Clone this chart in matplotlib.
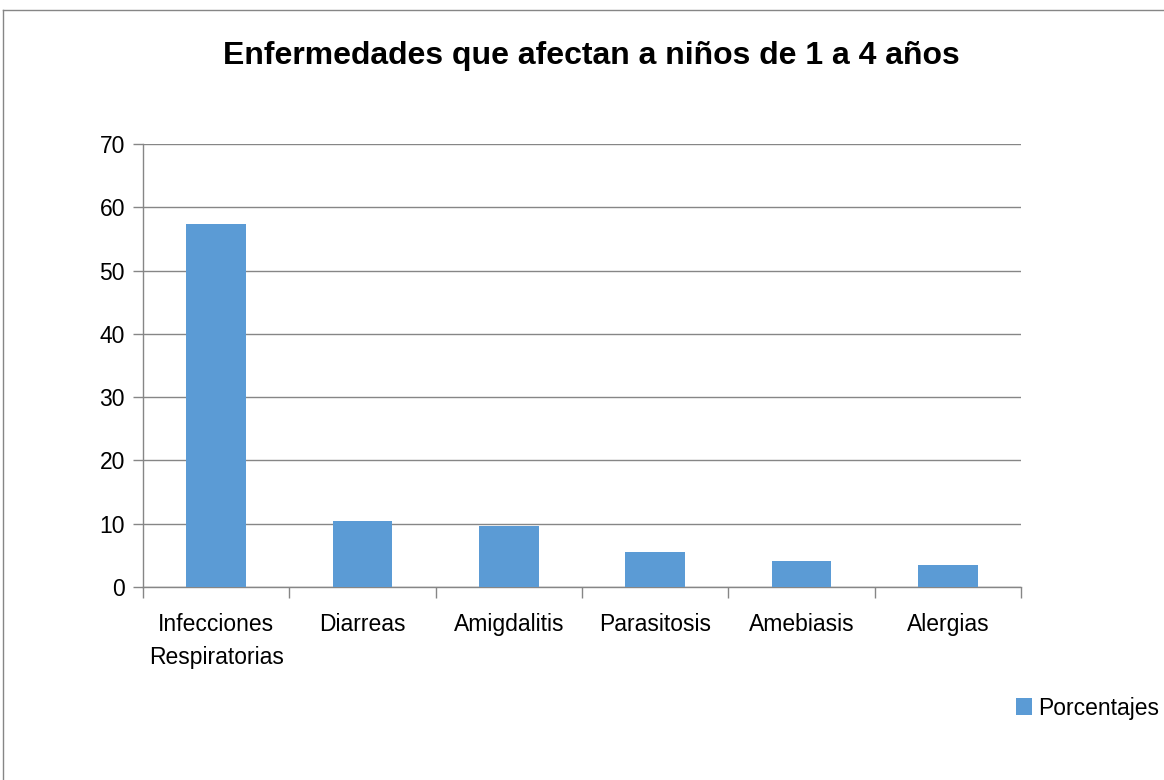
import matplotlib.pyplot as plt
from matplotlib.lines import Line2D
from matplotlib.patches import Patch

categorias = ['Infecciones\nRespiratorias', 'Diarreas', 'Amigdalitis',
              'Parasitosis', 'Amebiasis', 'Alergias']
porcentajes = [57.3, 10.4, 9.7, 5.6, 4.1, 3.5]
serie = 'Porcentajes'
titulo = 'Enfermedades que afectan a niños de 1 a 4 años'

azul = '#5b9bd5'
gris = '#868686'
plt.rcParams['font.family'] = ['Liberation Sans', 'DejaVu Sans']

fig = plt.figure(figsize=(11.64, 7.8), dpi=100)
ax = fig.add_axes([143 / 1164, 1 - 587 / 780, 878 / 1164, 443 / 780])

x = range(len(categorias))
ax.bar(x, porcentajes, width=0.41, color=azul, zorder=3)

ax.set_xlim(-0.5, len(categorias) - 0.5)
ax.set_ylim(0, 70)
ax.set_yticks(range(0, 71, 10))
ax.yaxis.grid(True, color=gris, linewidth=1)
ax.set_axisbelow(True)

ax.set_xticks(list(x))
ax.set_xticklabels(categorias, fontsize=16.5, linespacing=1.55)
ax.tick_params(axis='x', length=0, pad=19)
ax.set_xticks([i - 0.5 for i in range(len(categorias) + 1)], minor=True)
ax.tick_params(axis='x', which='minor', length=8, color=gris, width=1)
ax.tick_params(axis='y', length=7, color=gris, width=1, labelsize=16.5, pad=6)

for s in ['top', 'right']:
    ax.spines[s].set_visible(False)
for s in ['left', 'bottom']:
    ax.spines[s].set_color(gris)
    ax.spines[s].set_linewidth(1)

fig.text(591 / 1164, 1 - 56 / 780, titulo, ha='center', va='center',
         fontsize=23, fontweight='bold')

fig.legend(handles=[Patch(facecolor=azul, label=serie)], loc='center left',
           bbox_to_anchor=(995 / 1164, 1 - 708 / 780), frameon=False,
           fontsize=16.5, handlelength=0.7, handleheight=0.7, handletextpad=0.3)

# chart border
fig.add_artist(Line2D([3 / 1164, 1], [1 - 10 / 780, 1 - 10 / 780],
                      transform=fig.transFigure, color=gris, linewidth=1))
fig.add_artist(Line2D([3 / 1164, 3 / 1164], [0, 1 - 10 / 780],
                      transform=fig.transFigure, color=gris, linewidth=1))

fig.savefig('out.png', dpi=100)
